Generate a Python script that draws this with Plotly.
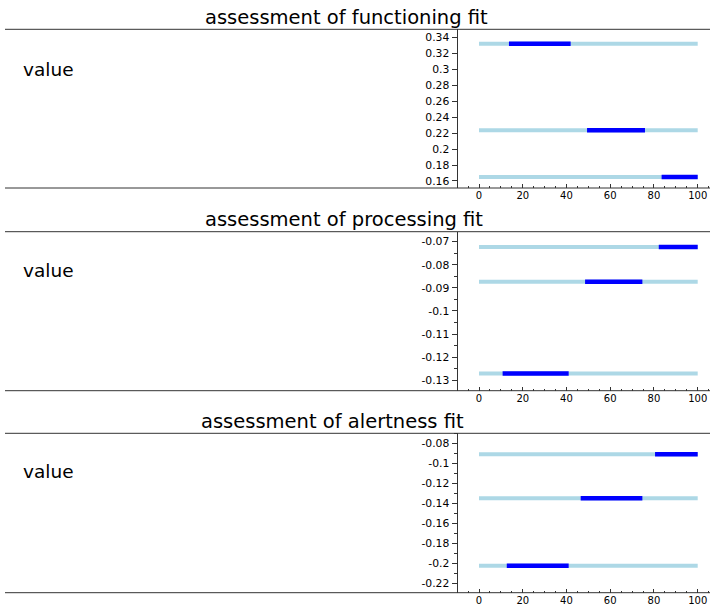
import plotly.graph_objects as go

# Panel titles
titles = ["assessment of functioning fit", "assessment of processing fit", "assessment of alertness fit"]

# Fitted level of each row (one light line per level), per panel
functioning_levels = [0.332, 0.2235, 0.165]
processing_levels = [-0.0723, -0.0874, -0.1271]
alertness_levels = [-0.0906, -0.1346, -0.2023]

# Highlighted range on the 0-100 scale for each level
functioning_ranges = [(13.7, 41.9), (49.4, 75.9), (83.5, 100)]
processing_ranges = [(82.2, 100), (48.5, 74.7), (10.8, 41.0)]
alertness_ranges = [(80.5, 100), (46.5, 74.7), (12.7, 41.0)]

# Full extent of each level line
x_extent = [0, 100]

# Axis tick values and labels
x_ticks = [0, 20, 40, 60, 80, 100]
x_ticktext = ["0", "20", "40", "60", "80", "100"]
functioning_yticks = [0.16, 0.18, 0.2, 0.22, 0.24, 0.26, 0.28, 0.3, 0.32, 0.34]
functioning_yticktext = ["0.16", "0.18", "0.2", "0.22", "0.24", "0.26", "0.28", "0.3", "0.32", "0.34"]
processing_yticks = [-0.13, -0.12, -0.11, -0.1, -0.09, -0.08, -0.07]
processing_yticktext = ["-0.13", "-0.12", "-0.11", "-0.1", "-0.09", "-0.08", "-0.07"]
alertness_yticks = [-0.22, -0.2, -0.18, -0.16, -0.14, -0.12, -0.1, -0.08]
alertness_yticktext = ["-0.22", "-0.2", "-0.18", "-0.16", "-0.14", "-0.12", "-0.1", "-0.08"]

W, H = 710, 611
FONT = "DejaVu Sans, Liberation Sans, sans-serif"
LIGHT = "#add8e6"
DARK = "#0000ff"
FRAME = "#333333"

panels = [
    dict(levels=functioning_levels, ranges=functioning_ranges, yr=[0.1512, 0.350],
         ticks=functioning_yticks, ticktext=functioning_yticktext, minor=None,
         top=29.3, bottom=188.0),
    dict(levels=processing_levels, ranges=processing_ranges, yr=[-0.1345, -0.0657],
         ticks=processing_yticks, ticktext=processing_yticktext, minor=0.005,
         top=231.7, bottom=390.7),
    dict(levels=alertness_levels, ranges=alertness_ranges, yr=[-0.2294, -0.0696],
         ticks=alertness_yticks, ticktext=alertness_yticktext, minor=0.01,
         top=433.3, bottom=592.7),
]

# Horizontal placement (pixels): y axis line and the 0..100 scale
axis_px = 457.5
x0_px, x100_px = 479.0, 697.7
ppu = (x100_px - x0_px) / 100.0
x_range = [(axis_px - x0_px) / ppu, (W - x0_px) / ppu]

fig = go.Figure()
layout = dict(
    width=W, height=H, margin=dict(l=0, r=0, t=0, b=0),
    paper_bgcolor="white", plot_bgcolor="white", showlegend=False,
    font=dict(family=FONT, size=10, color="black"),
    shapes=[], annotations=[],
)

title_x = [346, 344, 332.5]
title_y = [17, 219, 421]
value_y = [69, 270, 471]

for i, p in enumerate(panels):
    n = "" if i == 0 else str(i + 1)
    xa, ya = "x" + n, "y" + n
    for lvl, (a, b) in zip(p["levels"], p["ranges"]):
        fig.add_trace(go.Scatter(x=x_extent, y=[lvl, lvl], mode="lines",
                                 line=dict(color=LIGHT, width=4), xaxis=xa, yaxis=ya,
                                 hoverinfo="skip"))
        fig.add_trace(go.Scatter(x=[a, b], y=[lvl, lvl], mode="lines",
                                 line=dict(color=DARK, width=4.5), xaxis=xa, yaxis=ya))
    ydom = [1 - p["bottom"] / H, 1 - p["top"] / H]
    layout["xaxis" + n] = dict(
        domain=[axis_px / W, 1], range=x_range, anchor=ya,
        tickvals=x_ticks, ticktext=x_ticktext, ticks="inside", ticklen=4,
        tickcolor=FRAME, showgrid=False, zeroline=False, showline=False,
        minor=dict(dtick=5, ticks="inside", ticklen=2, tickcolor=FRAME, showgrid=False),
        tickfont=dict(size=10, family=FONT), fixedrange=True,
    )
    ydict = dict(
        domain=ydom, range=p["yr"], anchor=xa,
        tickvals=p["ticks"], ticktext=p["ticktext"], ticks="outside", ticklen=5,
        tickcolor=FRAME, showgrid=False, zeroline=False, showline=True,
        linecolor=FRAME, linewidth=1, tickfont=dict(size=10.8, family=FONT),
        fixedrange=True,
    )
    if p["minor"]:
        ydict["minor"] = dict(dtick=p["minor"], ticks="outside", ticklen=3,
                              tickcolor=FRAME, showgrid=False)
    layout["yaxis" + n] = ydict
    # top and bottom frame lines of the panel
    for yy in ydom:
        layout["shapes"].append(dict(type="line", xref="paper", yref="paper",
                                     x0=5 / W, x1=1, y0=yy, y1=yy,
                                     line=dict(color=FRAME, width=1)))
    layout["annotations"].append(dict(text=titles[i], xref="paper", yref="paper",
                                      x=title_x[i] / W, y=1 - title_y[i] / H, showarrow=False,
                                      xanchor="center", yanchor="middle",
                                      font=dict(size=19.5, family=FONT, color="black")))
    layout["annotations"].append(dict(text="value", xref="paper", yref="paper",
                                      x=21 / W, y=1 - value_y[i] / H, showarrow=False,
                                      xanchor="left", yanchor="middle",
                                      font=dict(size=18.5, family=FONT, color="black")))

fig.update_layout(**layout)
fig.write_html("out.html")
